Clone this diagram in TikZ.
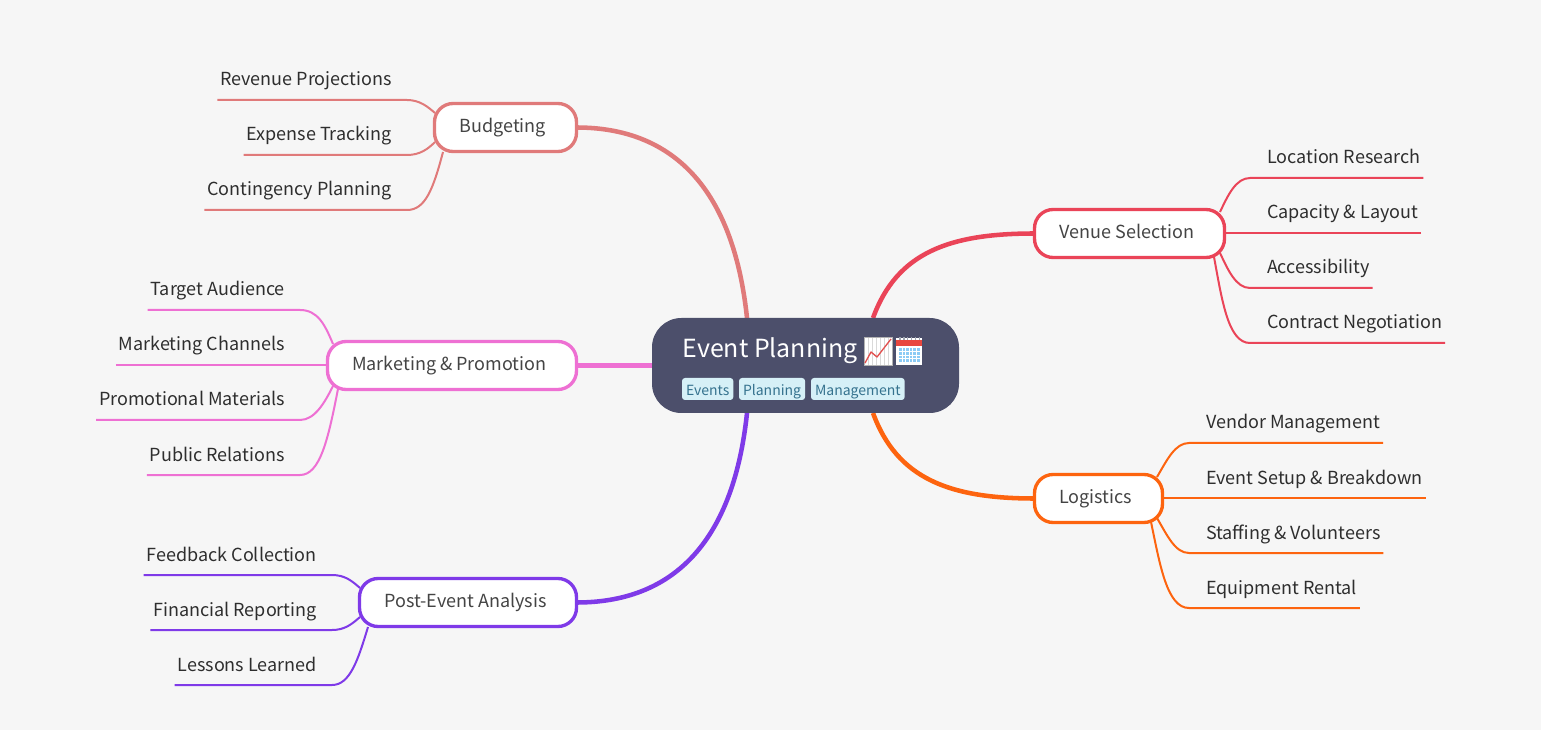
\documentclass[tikz,border=0pt]{standalone}
\usepackage{fontspec}
\setmainfont{Noto Sans CJK SC}
\definecolor{bgc}{HTML}{F6F6F6}
\definecolor{rootc}{HTML}{4C4F6B}
\definecolor{tagbg}{HTML}{D6F0F7}
\definecolor{tagfg}{HTML}{35728E}
\definecolor{budc}{HTML}{E07A7A}
\definecolor{venc}{HTML}{EA4458}
\definecolor{mktc}{HTML}{EE70D3}
\definecolor{logc}{HTML}{FD640F}
\definecolor{posc}{HTML}{7F3AE8}
\definecolor{branchtext}{HTML}{444444}
\definecolor{leaftext}{HTML}{2E2E2E}
\definecolor{chartred}{HTML}{E2504F}
\definecolor{calred}{HTML}{E8473F}
\definecolor{calblue}{HTML}{8CCBF5}
\definecolor{calgrey}{HTML}{9FA6B0}
\tikzset{
  x=0.75pt,y=-0.75pt,
  rootbox/.style={fill=rootc,rounded corners=22pt,minimum width=230.25pt,minimum height=71.25pt,inner sep=0pt,outer sep=0pt},
  branchbox/.style={draw=#1,fill=white,line width=2.5pt,rounded corners=14pt,minimum height=36pt,inner sep=0pt,outer sep=0pt,
    text=branchtext,font=\fontsize{13.5}{16}\selectfont,text height=10.5pt,text depth=3pt,anchor=north west},
  tagbox/.style={fill=tagbg,text=tagfg,rounded corners=2.25pt,inner xsep=3pt,inner ysep=0pt,minimum height=16.5pt,
    text height=12pt,text depth=1.5pt,font=\fontsize{10.5}{12}\selectfont,anchor=west,outer sep=0pt},
  leafl/.style={text=leaftext,font=\fontsize{13.5}{16}\selectfont,text height=11.5pt,text depth=3.5pt,
    inner ysep=7pt,inner xsep=0pt,outer sep=0pt},
  thick branch/.style={draw=#1,line width=3.4pt},
  thin branch/.style={draw=#1,line width=1.5pt},
}
\newcommand{\lleaf}[4]{\node[leafl,anchor=south east] (#1) at (#2,#3) {\kern2.25pt #4\kern11.4pt};}
\newcommand{\rleaf}[4]{\node[leafl,anchor=south west] (#1) at (#2,#3) {\kern12.75pt #4\kern2.25pt};}
\begin{document}
\begin{tikzpicture}
\path[use as bounding box,fill=bgc] (0,0) rectangle (1541,730);
\coordinate (rnl) at (747,318);
\coordinate (rnr) at (873,318);
\coordinate (rw) at (652,365.5);
\coordinate (rsl) at (747,413);
\coordinate (rsr) at (873,413);
% branch nodes
\node[branchbox=budc,minimum width=106.5pt] (bud) at (434.5,103.5) {\kern-4pt Budgeting};
\node[branchbox=venc,minimum width=142.5pt] (ven) at (1034.5,209.5) {\kern-4pt Venue Selection};
\node[branchbox=mktc,minimum width=186.75pt] (mkt) at (327.5,341.5) {\kern-4pt Marketing \& Promotion};
\node[branchbox=logc,minimum width=96pt] (log) at (1034.5,474.5) {\kern-4pt Logistics};
\node[branchbox=posc,minimum width=162.75pt] (pos) at (359.5,578.5) {\kern-4pt Post-Event Analysis};
% leaves
\lleaf{l1}{407}{100}{Revenue Projections}
\lleaf{l2}{407}{155}{Expense Tracking}
\lleaf{l3}{407}{210}{Contingency Planning}
\lleaf{m1}{300}{310}{Target Audience}
\lleaf{m2}{300}{365}{Marketing Channels}
\lleaf{m3}{300}{420}{Promotional Materials}
\lleaf{m4}{300}{475}{Public Relations}
\lleaf{p1}{332}{575}{Feedback Collection}
\lleaf{p2}{332}{630}{Financial Reporting}
\lleaf{p3}{332}{685}{Lessons Learned}
\rleaf{v1}{1250}{178}{Location Research}
\rleaf{v2}{1250}{233}{Capacity \& Layout}
\rleaf{v3}{1250}{288}{Accessibility}
\rleaf{v4}{1250}{343}{Contract Negotiation}
\rleaf{g1}{1189}{443}{Vendor Management}
\rleaf{g2}{1189}{498}{Event Setup \& Breakdown}
\rleaf{g3}{1189}{553}{Staffing \& Volunteers}
\rleaf{g4}{1189}{608}{Equipment Rental}
% leaf connectors
\draw[thin branch=budc] (l1.south west) -- (l1.south east) .. controls (420,100) and (428,107) .. ([shift={(0.5,9.5)}]bud.north west);
\draw[thin branch=budc] (l2.south west) -- (l2.south east) .. controls (420,155) and (428,149) .. ([shift={(0.5,-9.5)}]bud.south west);
\draw[thin branch=budc] (l3.south west) -- (l3.south east) .. controls (425,210) and (433,190) .. ([shift={(8.5,0.5)}]bud.south west);
\draw[thin branch=mktc] (m1.south west) -- (m1.south east) .. controls (318,310) and (325,325) .. ([shift={(5.5,2.5)}]mkt.north west);
\draw[thin branch=mktc] (m2.south west) -- (m2.south east) -- (mkt.west |- m2.south east);
\draw[thin branch=mktc] (m3.south west) -- (m3.south east) .. controls (315,420) and (325,402) .. ([shift={(5.5,-3.5)}]mkt.south west);
\draw[thin branch=mktc] (m4.south west) -- (m4.south east) .. controls (320,475) and (328,440) .. ([shift={(10.5,-0.5)}]mkt.south west);
\draw[thin branch=posc] (p1.south west) -- (p1.south east) .. controls (345,575) and (352,581) .. ([shift={(0.5,9.5)}]pos.north west);
\draw[thin branch=posc] (p2.south west) -- (p2.south east) .. controls (345,630) and (352,624) .. ([shift={(0.5,-9.5)}]pos.south west);
\draw[thin branch=posc] (p3.south west) -- (p3.south east) .. controls (350,685) and (358,660) .. ([shift={(8.5,0.5)}]pos.south west);
\draw[thin branch=venc] (v1.south east) -- (v1.south west) .. controls (1236,178) and (1228,195) .. ([shift={(-4.5,2.5)}]ven.north east);
\draw[thin branch=venc] (v2.south east) -- (v2.south west) -- (ven.east |- v2.south west);
\draw[thin branch=venc] (v3.south east) -- (v3.south west) .. controls (1236,288) and (1228,270) .. ([shift={(-4.5,-4.5)}]ven.south east);
\draw[thin branch=venc] (v4.south east) -- (v4.south west) .. controls (1228,343) and (1222,300) .. ([shift={(-10.5,-0.5)}]ven.south east);
\draw[thin branch=logc] (g1.south east) -- (g1.south west) .. controls (1175,443) and (1167,460) .. ([shift={(-5.5,2.5)}]log.north east);
\draw[thin branch=logc] (g2.south east) -- (g2.south west) -- (log.east |- g2.south west);
\draw[thin branch=logc] (g3.south east) -- (g3.south west) .. controls (1175,553) and (1167,535) .. ([shift={(-5.5,-4.5)}]log.south east);
\draw[thin branch=logc] (g4.south east) -- (g4.south west) .. controls (1167,608) and (1160,565) .. ([shift={(-11.5,-0.5)}]log.south east);
% thick connectors
\draw[thick branch=budc] (bud.east) .. controls (670,127.5) and (733,185) .. (rnl);
\draw[thick branch=venc] (ven.west) .. controls (950,233.5) and (897,252) .. (rnr);
\draw[thick branch=mktc] (mkt.east) -- (rw);
\draw[thick branch=logc] (log.west) .. controls (950,498.5) and (897,479) .. (rsr);
\draw[thick branch=posc] (pos.east) .. controls (670,602.5) and (733,546) .. (rsl);
% root
\node[rootbox,anchor=north west] (root) at (652,318) {};
\node[anchor=base west,inner sep=0pt,text=white,font=\fontsize{18.7}{22}\selectfont] (title) at (682.5,357.5) {Event Planning};
\node[tagbox] (t1) at (682,389) {Events};
\node[tagbox] (t2) at (739,389) {Planning};
\node[tagbox] (t3) at (811,389) {Management};
% chart icon
\fill[white] (864,337) rectangle (892,365);
\draw[black!15,line width=0.3pt,step=4] (864,337) grid (892,365);
\draw[black!30,line width=0.4pt] (864,337) rectangle (892,365);
\draw[chartred,line width=1pt,line join=round] (865,363) -- (871,352) -- (877,357) -- (891,339);
% calendar icon
\fill[white] (896,338) rectangle (922,365);
\fill[calred] (896,340) rectangle (922,346);
\foreach \i in {0,...,5}{\fill[calgrey] (899+3.9*\i,337) rectangle +(1.6,3.5);}
\fill[calblue] (898.5,348) rectangle (919.5,362);
\foreach \i in {1,...,5}{\draw[white,line width=0.3pt] (898.5+3.5*\i,348) -- +(0,14);}
\foreach \i in {1,...,3}{\draw[white,line width=0.3pt] (898.5,348+3.5*\i) -- +(21,0);}
\end{tikzpicture}
\end{document}
